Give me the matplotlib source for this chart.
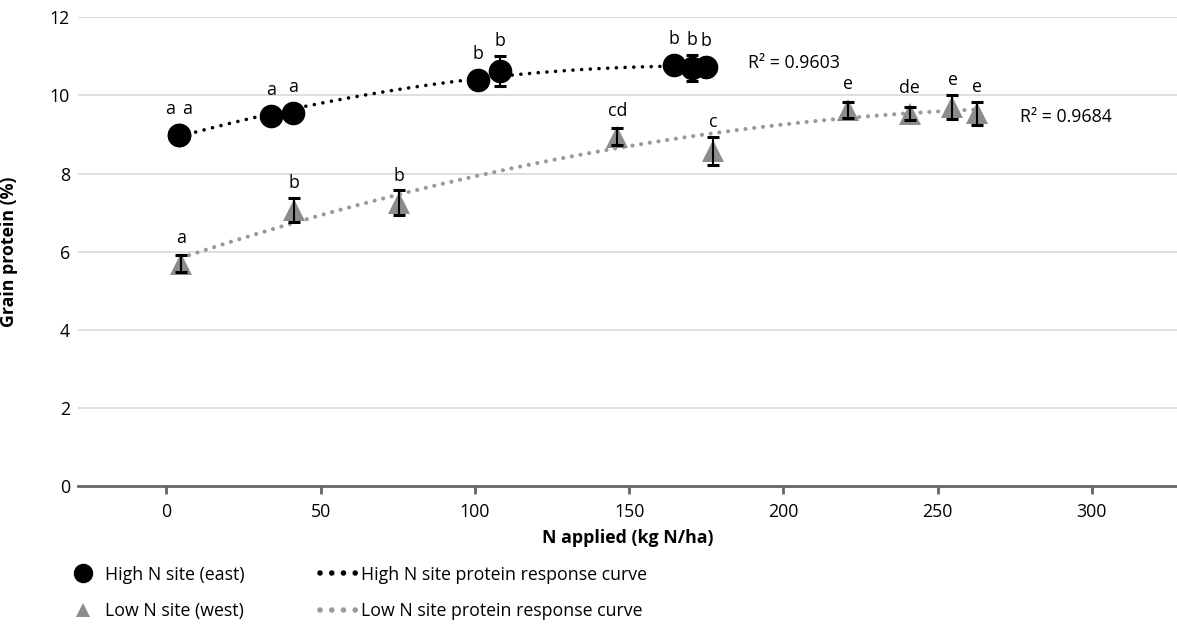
import numpy as np
import matplotlib.pyplot as plt
from matplotlib.lines import Line2D

plt.rcParams['font.family'] = ['Open Sans', 'DejaVu Sans']

# High N site (east)
high_x = [4, 4, 34, 41, 101, 108, 164.5, 170.5, 175]
high_y = [8.99, 8.99, 9.48, 9.56, 10.39, 10.63, 10.78, 10.70, 10.74]
high_err = [0.2, 0.2, 0.2, 0.2, 0.2, 0.38, 0.2, 0.33, 0.2]
high_letters = ['a', 'a', 'a', 'a', 'b', 'b', 'b', 'b', 'b']
high_r2 = '0.9603'

# Low N site (west)
low_x = [4.6, 41.3, 75.5, 146.2, 177.3, 221.0, 241.0, 254.8, 262.8]
low_y = [5.70, 7.07, 7.26, 8.95, 8.58, 9.63, 9.53, 9.71, 9.54]
low_err = [0.22, 0.30, 0.31, 0.22, 0.36, 0.20, 0.17, 0.30, 0.30]
low_letters = ['a', 'b', 'b', 'cd', 'c', 'e', 'de', 'e', 'e']
low_r2 = '0.9684'

x_ticks = [0, 50, 100, 150, 200, 250, 300]
y_ticks = [0, 2, 4, 6, 8, 10, 12]

black = '#000000'
tri_grey = '#8c8c8c'
curve_grey = '#9a9a9a'
fs = 12.8


def trend(ax, x, y, color, lw, gap):
    # second order polynomial trendline, as in the spreadsheet
    coef = np.polyfit(x, y, 2)
    xs = np.linspace(min(x), max(x), 300)
    ax.plot(xs, np.polyval(coef, xs), color=color, lw=lw,
            linestyle=(0, (0.01, gap)), dash_capstyle='round', zorder=2)


def letters(ax, x, y, err, labels):
    # stack duplicate x positions side by side
    seen = {}
    for xi, yi, ei, lab in zip(x, y, err, labels):
        n = seen.get(xi, 0)
        seen[xi] = n + 1
        dup = sum(1 for v in x if v == xi)
        dx = 0 if dup == 1 else (n - (dup - 1) / 2) * 17
        ly = max(yi + 0.66, yi + ei + 0.38)
        ax.annotate(lab, (xi, ly), xytext=(dx * 0.72, 0), textcoords='offset points',
                    ha='center', va='center', fontsize=fs, zorder=6)


fig = plt.figure(figsize=(11.77, 6.39), dpi=100)
ax = fig.add_axes([0.0665, 0.2387, 0.9335, 0.7343])

trend(ax, high_x, high_y, black, 2.6, 2.4)
trend(ax, low_x, low_y, curve_grey, 3.0, 2.1)

ax.plot(high_x, high_y, 'o', ms=16, color=black, mec=black, zorder=3)
ax.plot(low_x, low_y, '^', ms=15.5, color=tri_grey, mec=tri_grey, mew=0, zorder=3)
ax.errorbar(high_x, high_y, yerr=high_err, fmt='none', ecolor=black,
            elinewidth=1.5, capsize=4, capthick=2.2, zorder=4)
ax.errorbar(low_x, low_y, yerr=low_err, fmt='none', ecolor=black,
            elinewidth=1.5, capsize=4, capthick=2.2, zorder=4)

letters(ax, high_x, high_y, high_err, high_letters)
letters(ax, low_x, low_y, low_err, low_letters)

ax.text(188.5, 10.83, 'R² = ' + high_r2, fontsize=fs, va='center', ha='left')
ax.text(276.6, 9.46, 'R² = ' + low_r2, fontsize=fs, va='center', ha='left')

ax.set_xlim(-28.6, 327.6)
ax.set_ylim(0, 12)
ax.set_xticks(x_ticks)
ax.set_yticks(y_ticks)
ax.grid(axis='y', color='#d9d9d9', lw=1.2)
ax.set_axisbelow(True)
for s in ['top', 'right', 'left']:
    ax.spines[s].set_visible(False)
ax.spines['bottom'].set_color('#666666')
ax.spines['bottom'].set_linewidth(2)
ax.spines['bottom'].set_zorder(1)
ax.tick_params(axis='x', length=6, width=2, color='#666666', pad=6, labelsize=fs)
ax.tick_params(axis='y', length=0, pad=6, labelsize=fs)
for lab in ax.get_xticklabels() + ax.get_yticklabels():
    lab.set_clip_on(False)

ax.set_xlabel('N applied (kg N/ha)', fontsize=fs, fontweight='bold', labelpad=6)
ax.set_ylabel('Grain protein (%)', fontsize=fs, fontweight='bold')
ax.yaxis.set_label_coords(-0.055, 0.5)

h_marks = [
    Line2D([], [], ls='none', marker='o', ms=13, color=black),
    Line2D([], [], ls='none', marker='^', ms=10, color=tri_grey, mew=0),
]
h_lines = [
    Line2D([], [], color=black, lw=4, ls=(0, (0.01, 2.1)), dash_capstyle='round'),
    Line2D([], [], color=curve_grey, lw=4, ls=(0, (0.01, 2.1)), dash_capstyle='round'),
]
leg1 = fig.legend(h_marks, ['High N site (east)', 'Low N site (west)'],
                  loc='upper left', bbox_to_anchor=(0.059, 0.115), frameon=False,
                  fontsize=fs, handlelength=1.5, handletextpad=0.5,
                  labelspacing=1.05, borderpad=0, borderaxespad=0)
leg2 = fig.legend(h_lines, ['High N site protein response curve',
                            'Low N site protein response curve'],
                  loc='upper left', bbox_to_anchor=(0.272, 0.115), frameon=False,
                  fontsize=fs, handlelength=2.05, handletextpad=0.25,
                  labelspacing=1.05, borderpad=0, borderaxespad=0)

fig.savefig('out.png', dpi=100)
